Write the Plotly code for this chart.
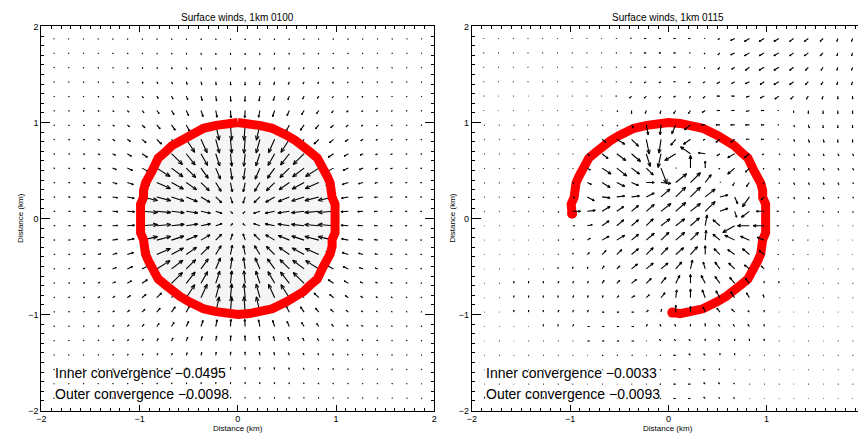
import math
import plotly.graph_objects as go

W, H = 861, 439

# ---------------- data ----------------
COL_X = [-1.875, -1.725, -1.575, -1.425, -1.275, -1.125, -0.975, -0.825, -0.675, -0.525, -0.375, -0.225, -0.075,
         0.075, 0.225, 0.375, 0.525, 0.675, 0.825, 0.975, 1.125, 1.275, 1.425, 1.575, 1.725, 1.875]
ROW_Y = [1.875, 1.725, 1.575, 1.425, 1.275, 1.125, 0.975, 0.825, 0.675, 0.525, 0.375, 0.225, 0.075,
         -0.075, -0.225, -0.375, -0.525, -0.675, -0.825, -0.975, -1.125, -1.275, -1.425, -1.575, -1.725, -1.875]

# wind components (display units), rows top->bottom, columns left->right
U_0100 = [
 [0.5,0.5,0.5,0.5,0.5,0.5,0.5,0.4,0.4,0.3,0.3,0.2,0.1,-0.1,-0.2,-0.3,-0.3,-0.4,-0.4,-0.5,-0.5,-0.5,-0.5,-0.5,-0.5,-0.5],
 [0.6,0.6,0.6,0.6,0.6,0.6,0.6,0.6,0.5,0.4,0.3,0.2,0.1,-0.1,-0.2,-0.3,-0.4,-0.5,-0.6,-0.6,-0.6,-0.6,-0.6,-0.6,-0.6,-0.6],
 [0.7,0.7,0.7,0.7,0.7,0.7,0.7,0.7,0.7,0.6,0.5,0.3,0.1,-0.1,-0.3,-0.5,-0.6,-0.7,-0.7,-0.7,-0.7,-0.7,-0.7,-0.7,-0.7,-0.7],
 [0.7,0.7,0.8,0.8,0.9,0.9,1.0,1.0,1.0,1.0,0.8,0.5,0.2,-0.2,-0.5,-0.8,-1.0,-1.0,-1.0,-1.0,-0.9,-0.9,-0.8,-0.8,-0.7,-0.7],
 [0.8,0.8,0.8,1.0,1.1,1.2,1.3,1.5,1.5,1.5,1.3,0.9,0.3,-0.3,-0.9,-1.3,-1.5,-1.5,-1.5,-1.3,-1.2,-1.1,-1.0,-0.8,-0.8,-0.8],
 [0.9,0.9,1.0,1.2,1.4,1.6,1.9,2.3,2.5,2.4,2.1,1.4,0.5,-0.5,-1.4,-2.1,-2.4,-2.5,-2.3,-1.9,-1.6,-1.4,-1.2,-1.0,-0.9,-0.9],
 [0.9,1.0,1.2,1.5,1.7,2.2,2.9,3.4,3.7,3.6,3.0,3.6,1.2,-1.2,-3.6,-3.0,-3.6,-3.7,-3.4,-2.9,-2.2,-1.7,-1.5,-1.2,-1.0,-0.9],
 [1.0,1.2,1.4,1.8,2.3,3.1,4.0,4.8,5.1,8.5,6.2,3.8,1.3,-1.3,-3.8,-6.2,-8.5,-5.1,-4.8,-4.0,-3.1,-2.3,-1.8,-1.4,-1.2,-1.0],
 [1.1,1.3,1.7,2.1,2.9,4.2,5.4,6.3,11.0,8.9,6.7,4.1,1.4,-1.4,-4.1,-6.7,-8.9,-11.0,-6.3,-5.4,-4.2,-2.9,-2.1,-1.7,-1.3,-1.1],
 [1.2,1.4,1.9,2.6,3.7,5.2,6.7,13.3,11.5,9.5,7.3,4.8,1.7,-1.7,-4.8,-7.3,-9.5,-11.5,-13.3,-6.7,-5.2,-3.7,-2.6,-1.9,-1.4,-1.2],
 [1.3,1.6,2.1,2.9,4.5,6.2,7.8,13.7,12.0,10.3,8.3,5.4,1.9,-1.9,-5.4,-8.3,-10.3,-12.0,-13.7,-7.8,-6.2,-4.5,-2.9,-2.1,-1.6,-1.3],
 [1.3,1.7,2.2,3.2,5.0,6.9,15.6,14.0,12.4,11.2,9.0,5.9,2.1,-2.1,-5.9,-9.0,-11.2,-12.4,-14.0,-15.6,-6.9,-5.0,-3.2,-2.2,-1.7,-1.3],
 [1.4,1.8,2.3,3.5,5.3,7.3,15.7,14.2,12.8,11.6,9.5,6.3,2.2,-2.2,-6.3,-9.5,-11.6,-12.8,-14.2,-15.7,-7.3,-5.3,-3.5,-2.3,-1.8,-1.4],
 [1.4,1.8,2.3,3.5,5.3,7.3,15.7,14.2,12.8,11.6,9.5,6.3,2.2,-2.2,-6.3,-9.5,-11.6,-12.8,-14.2,-15.7,-7.3,-5.3,-3.5,-2.3,-1.8,-1.4],
 [1.3,1.7,2.2,3.2,5.0,6.9,15.6,14.0,12.4,11.2,9.0,5.9,2.1,-2.1,-5.9,-9.0,-11.2,-12.4,-14.0,-15.6,-6.9,-5.0,-3.2,-2.2,-1.7,-1.3],
 [1.3,1.6,2.1,2.9,4.5,6.2,7.8,13.7,12.0,10.3,8.3,5.4,1.9,-1.9,-5.4,-8.3,-10.3,-12.0,-13.7,-7.8,-6.2,-4.5,-2.9,-2.1,-1.6,-1.3],
 [1.2,1.4,1.9,2.6,3.7,5.2,6.7,13.3,11.5,9.5,7.3,4.8,1.7,-1.7,-4.8,-7.3,-9.5,-11.5,-13.3,-6.7,-5.2,-3.7,-2.6,-1.9,-1.4,-1.2],
 [1.1,1.3,1.7,2.1,2.9,4.2,5.4,6.3,11.0,8.9,6.7,4.1,1.4,-1.4,-4.1,-6.7,-8.9,-11.0,-6.3,-5.4,-4.2,-2.9,-2.1,-1.7,-1.3,-1.1],
 [1.0,1.2,1.4,1.8,2.3,3.1,4.0,4.8,5.1,8.5,6.2,3.8,1.3,-1.3,-3.8,-6.2,-8.5,-5.1,-4.8,-4.0,-3.1,-2.3,-1.8,-1.4,-1.2,-1.0],
 [0.9,1.0,1.2,1.5,1.7,2.2,2.9,3.4,3.7,3.6,3.0,3.6,1.2,-1.2,-3.6,-3.0,-3.6,-3.7,-3.4,-2.9,-2.2,-1.7,-1.5,-1.2,-1.0,-0.9],
 [0.9,0.9,1.0,1.2,1.4,1.6,1.9,2.3,2.5,2.4,2.1,1.4,0.5,-0.5,-1.4,-2.1,-2.4,-2.5,-2.3,-1.9,-1.6,-1.4,-1.2,-1.0,-0.9,-0.9],
 [0.8,0.8,0.8,1.0,1.1,1.2,1.3,1.5,1.5,1.5,1.3,0.9,0.3,-0.3,-0.9,-1.3,-1.5,-1.5,-1.5,-1.3,-1.2,-1.1,-1.0,-0.8,-0.8,-0.8],
 [0.7,0.7,0.8,0.8,0.9,0.9,1.0,1.0,1.0,1.0,0.8,0.5,0.2,-0.2,-0.5,-0.8,-1.0,-1.0,-1.0,-1.0,-0.9,-0.9,-0.8,-0.8,-0.7,-0.7],
 [0.7,0.7,0.7,0.7,0.7,0.7,0.7,0.7,0.7,0.6,0.5,0.3,0.1,-0.1,-0.3,-0.5,-0.6,-0.7,-0.7,-0.7,-0.7,-0.7,-0.7,-0.7,-0.7,-0.7],
 [0.6,0.6,0.6,0.6,0.6,0.6,0.6,0.6,0.5,0.4,0.3,0.2,0.1,-0.1,-0.2,-0.3,-0.4,-0.5,-0.6,-0.6,-0.6,-0.6,-0.6,-0.6,-0.6,-0.6],
 [0.5,0.5,0.5,0.5,0.5,0.5,0.5,0.4,0.4,0.3,0.3,0.2,0.1,-0.1,-0.2,-0.3,-0.3,-0.4,-0.4,-0.5,-0.5,-0.5,-0.5,-0.5,-0.5,-0.5],
]
V_0100 = [
 [-0.5,-0.6,-0.7,-0.7,-0.8,-0.9,-0.9,-1.0,-1.1,-1.2,-1.3,-1.3,-1.4,-1.4,-1.3,-1.3,-1.2,-1.1,-1.0,-0.9,-0.9,-0.8,-0.7,-0.7,-0.6,-0.5],
 [-0.5,-0.6,-0.7,-0.7,-0.8,-0.9,-1.0,-1.2,-1.3,-1.4,-1.6,-1.7,-1.8,-1.8,-1.7,-1.6,-1.4,-1.3,-1.2,-1.0,-0.9,-0.8,-0.7,-0.7,-0.6,-0.5],
 [-0.5,-0.6,-0.7,-0.8,-0.8,-1.0,-1.2,-1.4,-1.7,-1.9,-2.1,-2.2,-2.3,-2.3,-2.2,-2.1,-1.9,-1.7,-1.4,-1.2,-1.0,-0.8,-0.8,-0.7,-0.6,-0.5],
 [-0.5,-0.6,-0.7,-0.8,-1.0,-1.2,-1.5,-1.8,-2.1,-2.6,-2.9,-3.2,-3.5,-3.5,-3.2,-2.9,-2.6,-2.1,-1.8,-1.5,-1.2,-1.0,-0.8,-0.7,-0.6,-0.5],
 [-0.5,-0.6,-0.7,-0.9,-1.1,-1.4,-1.7,-2.3,-2.9,-3.7,-4.5,-5.0,-5.3,-5.3,-5.0,-4.5,-3.7,-2.9,-2.3,-1.7,-1.4,-1.1,-0.9,-0.7,-0.6,-0.5],
 [-0.5,-0.6,-0.7,-0.9,-1.2,-1.6,-2.2,-3.1,-4.2,-5.2,-6.2,-6.9,-7.3,-7.3,-6.9,-6.2,-5.2,-4.2,-3.1,-2.2,-1.6,-1.2,-0.9,-0.7,-0.6,-0.5],
 [-0.5,-0.6,-0.7,-1.0,-1.3,-1.9,-2.9,-4.0,-5.4,-6.7,-7.8,-15.6,-15.7,-15.7,-15.6,-7.8,-6.7,-5.4,-4.0,-2.9,-1.9,-1.3,-1.0,-0.7,-0.6,-0.5],
 [-0.4,-0.6,-0.7,-1.0,-1.5,-2.3,-3.4,-4.8,-6.3,-13.3,-13.7,-14.0,-14.2,-14.2,-14.0,-13.7,-13.3,-6.3,-4.8,-3.4,-2.3,-1.5,-1.0,-0.7,-0.6,-0.4],
 [-0.4,-0.5,-0.7,-1.0,-1.5,-2.5,-3.7,-5.1,-11.0,-11.5,-12.0,-12.4,-12.8,-12.8,-12.4,-12.0,-11.5,-11.0,-5.1,-3.7,-2.5,-1.5,-1.0,-0.7,-0.5,-0.4],
 [-0.3,-0.4,-0.6,-1.0,-1.5,-2.4,-3.6,-8.5,-8.9,-9.5,-10.3,-11.2,-11.6,-11.6,-11.2,-10.3,-9.5,-8.9,-8.5,-3.6,-2.4,-1.5,-1.0,-0.6,-0.4,-0.3],
 [-0.3,-0.3,-0.5,-0.8,-1.3,-2.1,-3.0,-6.2,-6.7,-7.3,-8.3,-9.0,-9.5,-9.5,-9.0,-8.3,-7.3,-6.7,-6.2,-3.0,-2.1,-1.3,-0.8,-0.5,-0.3,-0.3],
 [-0.2,-0.2,-0.3,-0.5,-0.9,-1.4,-3.6,-3.8,-4.1,-4.8,-5.4,-5.9,-6.3,-6.3,-5.9,-5.4,-4.8,-4.1,-3.8,-3.6,-1.4,-0.9,-0.5,-0.3,-0.2,-0.2],
 [-0.1,-0.1,-0.1,-0.2,-0.3,-0.5,-1.2,-1.3,-1.4,-1.7,-1.9,-2.1,-2.2,-2.2,-2.1,-1.9,-1.7,-1.4,-1.3,-1.2,-0.5,-0.3,-0.2,-0.1,-0.1,-0.1],
 [0.1,0.1,0.1,0.2,0.3,0.5,1.2,1.3,1.4,1.7,1.9,2.1,2.2,2.2,2.1,1.9,1.7,1.4,1.3,1.2,0.5,0.3,0.2,0.1,0.1,0.1],
 [0.2,0.2,0.3,0.5,0.9,1.4,3.6,3.8,4.1,4.8,5.4,5.9,6.3,6.3,5.9,5.4,4.8,4.1,3.8,3.6,1.4,0.9,0.5,0.3,0.2,0.2],
 [0.3,0.3,0.5,0.8,1.3,2.1,3.0,6.2,6.7,7.3,8.3,9.0,9.5,9.5,9.0,8.3,7.3,6.7,6.2,3.0,2.1,1.3,0.8,0.5,0.3,0.3],
 [0.3,0.4,0.6,1.0,1.5,2.4,3.6,8.5,8.9,9.5,10.3,11.2,11.6,11.6,11.2,10.3,9.5,8.9,8.5,3.6,2.4,1.5,1.0,0.6,0.4,0.3],
 [0.4,0.5,0.7,1.0,1.5,2.5,3.7,5.1,11.0,11.5,12.0,12.4,12.8,12.8,12.4,12.0,11.5,11.0,5.1,3.7,2.5,1.5,1.0,0.7,0.5,0.4],
 [0.4,0.6,0.7,1.0,1.5,2.3,3.4,4.8,6.3,13.3,13.7,14.0,14.2,14.2,14.0,13.7,13.3,6.3,4.8,3.4,2.3,1.5,1.0,0.7,0.6,0.4],
 [0.5,0.6,0.7,1.0,1.3,1.9,2.9,4.0,5.4,6.7,7.8,15.6,15.7,15.7,15.6,7.8,6.7,5.4,4.0,2.9,1.9,1.3,1.0,0.7,0.6,0.5],
 [0.5,0.6,0.7,0.9,1.2,1.6,2.2,3.1,4.2,5.2,6.2,6.9,7.3,7.3,6.9,6.2,5.2,4.2,3.1,2.2,1.6,1.2,0.9,0.7,0.6,0.5],
 [0.5,0.6,0.7,0.9,1.1,1.4,1.7,2.3,2.9,3.7,4.5,5.0,5.3,5.3,5.0,4.5,3.7,2.9,2.3,1.7,1.4,1.1,0.9,0.7,0.6,0.5],
 [0.5,0.6,0.7,0.8,1.0,1.2,1.5,1.8,2.1,2.6,2.9,3.2,3.5,3.5,3.2,2.9,2.6,2.1,1.8,1.5,1.2,1.0,0.8,0.7,0.6,0.5],
 [0.5,0.6,0.7,0.8,0.8,1.0,1.2,1.4,1.7,1.9,2.1,2.2,2.3,2.3,2.2,2.1,1.9,1.7,1.4,1.2,1.0,0.8,0.8,0.7,0.6,0.5],
 [0.5,0.6,0.7,0.7,0.8,0.9,1.0,1.2,1.3,1.4,1.6,1.7,1.8,1.8,1.7,1.6,1.4,1.3,1.2,1.0,0.9,0.8,0.7,0.7,0.6,0.5],
 [0.5,0.6,0.7,0.7,0.8,0.9,0.9,1.0,1.1,1.2,1.3,1.3,1.4,1.4,1.3,1.3,1.2,1.1,1.0,0.9,0.9,0.8,0.7,0.7,0.6,0.5],
]

U_0115 = [
 [-0.6,-0.6,-0.6,-0.6,-0.6,-0.6,-0.6,-0.6,-0.6,-0.8,-1,-2,-2,-2,-2,-1,-2,-4,-5,-5,-5,-4,-4,-3,-1,-1],
 [-0.6,-0.6,-0.6,-0.6,-0.6,-0.6,-0.6,-0.6,-0.6,-0.8,-1,-2,-2,-2,-1,-1,-2,-4,-5,-5,-5,-4,-4,-3,-1,-1],
 [-0.6,-0.6,-0.6,-0.6,-0.6,-0.6,-0.6,-0.6,-0.6,-0.8,-1,-2,-2,-2,-1,-1,-2,-3,-4,-5,-5,-4,-3,-2,-1,-1],
 [-0.6,-0.6,-0.6,-0.6,-0.6,-0.6,-0.6,-0.6,-0.6,-0.8,-1,-2,-2,-2,-2,-2,-3,-3,-4,-4,-5,-4,-3,-2,-1,-1],
 [-0.5,-0.5,-0.5,-0.5,-0.5,-0.5,-0.5,-0.5,-0.5,-1,-2,-2,-2,-2,-1,-2,-3,-3,-3,-4,-4,-3,-2,-1,0,0],
 [-0.5,-0.5,-0.5,-0.5,-0.5,-0.5,-0.5,-0.5,-0.5,1,0,-1,-1,-2,-2,-3,-3,-3,-3,-3,-1,0,0,0,0,0],
 [0.5,0.5,0.5,0.5,0.5,0.5,0.5,0.5,1,1,2,2,-1,-4,-6,-4,-4,-4,-4,-3,-1,1,1,0,0,0],
 [0.5,0.5,0.5,0.5,0.5,0.5,0.5,0.5,4,8,7,3,-2,-5,-7,-2,-4,-4,-3,-3,-1,1,1,1,0,0],
 [0.5,0.5,0.5,0.5,0.5,0.5,0.5,2,6,9,9,4,-3,-11,-10,-7,-3,-7,-5,-2,1,1,1,1,1,1],
 [0.5,0.5,0.5,0.5,0.5,0.5,0.5,3,9,10,8,7,6,0.6,0,0,-1,-7,-4,-1,1,1,1,1,1,1],
 [0.5,0.5,0.5,0.5,0.5,0.5,1,4,8,8,7,8,10,11,10,6,0.5,-2,-3,-1,0.5,1,1,1,1,1],
 [0.5,0.5,0.7,0.7,0.7,0.7,2,7,8,8,8,8,9,10,10,10,8,3,-7,-3,-1,1,1,1,1,1],
 [0.5,0.5,0.5,0.5,0.5,1,8,8,8,7,7,8,10,10,10,10,8,2,-8,-8,-2,0.7,0.7,0.7,0.7,0.7],
 [0.5,0.5,0.5,0.5,0.5,1,2,5,7,7,7,7,9,9,9,2,-7,-12,-12,-11,-2,-0.7,-0.7,-0.7,0.5,0.5],
 [0.5,0.5,0.5,0.5,0.5,1,1,3,7,8,7,8,8,9,8,1,-7,-10,-9,-7,-0.6,-1,-0.6,-0.6,0.5,0.5],
 [0.5,0.5,0.5,0.5,0.5,0.5,0.5,2,4,5,7,7,7,8,7,0,-6,-7,-7,-5,-1,-0.6,-0.6,-0.6,0.5,0.5],
 [0.5,0.5,0.5,0.5,0.5,0.3,0.3,0.5,2,3,6,7,7,6,2,-2,-5,-6,-5,-3,-0.6,-0.6,0.5,0.5,0.5,0.5],
 [0.5,0.5,0.3,0.3,0.3,1,1,1,2,3,5,5,5,4,0,-4,-5,-5,-4,0,0,0.5,0.5,0.5,0.5,0.5],
 [0.5,0.5,0.3,0.3,0.3,0.3,1,1,1,2,3,3,4,1,0,-3,-4,-4,-3,-1,0.5,0.5,0.5,0.5,0.5,0.5],
 [0.5,0.5,0.3,0.3,0.3,1,1,1,2,2,2,2,0.5,0,0,-2,-3,-3,-1.5,0,0.5,0.5,0.5,0.5,0.5,0.5],
 [0.5,0.5,0.5,0.5,0.3,0.3,1,2,2,2,2,1,-1,-1,0,0,-1.5,-1.5,-1.5,0,0.5,0.5,0.5,0.5,0.5,0.5],
 [0.5,0.5,0.5,0.5,0.5,0.5,0.5,2,2,2,2,0.5,-1.5,-1.5,-1.5,0,-1.5,0,0,0,0.5,0.5,0.5,0.5,0.5,0.5],
 [0.5,0.5,0.5,0.5,0.5,0.5,0.5,0.5,1,1,1,0.5,-1,-2,-1.5,-1.5,0,0,0.5,0.5,0.5,0.5,0.5,0.5,0.5,0.5],
 [0.5,0.5,0.5,0.5,0.5,0.5,0.5,0.5,0.5,0.5,0.5,0.5,-1,-2,-1.5,-2,-1,0.5,0.5,0.5,0.5,0.5,0.5,0.5,0.5,0.5],
 [0.5,0.5,0.5,0.5,0.5,0.5,0.5,0.5,0.5,0.5,0.5,0.5,-1,-2,-2,-1.5,-1.5,-1,0.5,0.5,0.5,0.5,0.5,0.5,0.5,0.5],
 [0.5,0.5,0.5,0.5,0.5,0.5,0.5,0.5,0.5,0.5,0.5,0.5,-1,-2,-2,-1.5,-1,-1,0.5,0.5,0.5,0.5,0.5,0.5,0.5,0.5],
]
V_0115 = [
 [0,0,0,0,0,0,0,0,0,0,0.5,0,0,0,0,0,-1,-2,-3,-3,-3,-3,-3,-3,-3,-3],
 [0,0,0,0,0,0,0,0,0,0,0,0,0,0,0,-1,-2,-2,-3,-3,-3,-3,-3,-3,-3,-3],
 [0,0,0,0,0,0,0,0,0,0,0,0,0,0,0,-1,-2,-2,-3,-3,-3,-3,-3,-3,-3,-3],
 [0,0,0,0,0,0,0,0,0,0,-1,-1,-1,0,-1,-1,-2,-2,-2,-3,-3,-3,-3,-3,-3,-3],
 [0,0,0,0,0,0,0,0,0,0,-2,-2,-2,-1,-2,-2,0,0,-1,-2,-3,-3,-3,-3,-3,-3],
 [0,0,0,0,0,0,0,0,0,-1,-3,-3,-3,-3,-3,-2,0,0,-1,0,0,-2,-3,-3,-3,-3],
 [-0.3,-0.3,-0.3,-0.3,-0.3,-0.3,-0.3,-0.3,-0.5,-1,-3,-10,-10,-9,-5,0,0,0,0,0,0,-2,-3,-3,-3,-3],
 [-0.3,-0.3,-0.3,-0.3,-0.3,-0.3,-0.3,-0.3,-3,-5,-7,-15,-14,-6,-5,-1,-3,-3,0,0,0,-2,-3,-3,-3,-3],
 [-0.3,-0.3,-0.3,-0.3,-0.3,-0.3,-0.3,-2,-5,-7,-8,-13,-14,-7,7,1,-2,-4,-4,-1,-1,-2,-2,-2,-2,-2],
 [-0.4,-0.4,-0.4,-0.4,-0.4,-0.4,-0.4,-2,-6,-8,-6,-7,-16,0,13,7,-1,-6,-4,-1,-2,-2,-2,-2,-2,-2],
 [-0.5,-0.5,-0.5,-0.5,-0.5,-0.5,-1,-2,-5,-4,-3,0,-1,9,10,8,0.5,-3,-4,-1,-1,-2,-2,-2,-2,-1],
 [-0.3,-0.3,-0.7,-0.7,-0.7,-0.7,-1,-4,-1,1,1,4,8,10,10,8,2,-7,-10,-3,-1,-2,-2,-2,-1,-1],
 [-0.3,-0.3,-0.3,-0.3,-0.3,-1,0,1,5,5,6,7,8,9,8,10,3,-6,-6,0,0,-1,-1,-1,-1,-1],
 [0,0,0,0,0,0,0,1,5,6,6,7,7,7,8,11,6,-7,0,0,0,0,0,0,0,0],
 [0,0,0,0,0,0,1,2,4,5,6,7,8,8,8,10,6,5,4,3,0,0,0,0,0,0],
 [0,0,0,0,0,0.5,1.5,2,4,5,6,7,7,7,8,9,6,5,6,4,0,0,0,0,0,0],
 [0,0,0,0,0,1.5,2,2,3,3,5,6,6,7,9,7,7,6,4,3,0,0,0,0,0,0],
 [0,0,2,2,2,2,2,2,3,3,4,5,6,8,9,8,7,6,5,2,2,0,0,0,0,0],
 [0,0,2,2,2,2,2,2,2,2,2,3,5,8,9,8,7,6,5,3,0,0,0,0,0,0],
 [0,0,2,2,2,2,2,2,0,0,0,2,3,7,6,5,4,3,1.5,2,0,0,0,0,0,0],
 [0,0,0,0,2,2,2,0,0,0,0,2,2,2,2,3,2,2,2,2,0,0,0,0,0,0],
 [0,0,0,0,0,0,0,0,0,0,0,0,1.5,1.5,1.5,2,1.5,2,2,2,0,0,0,0,0,0],
 [0,0,0,0,0,0,0,0,0,0,0,0,0,0,1.5,1.5,2,2,0,0,0,0,0,0,0,0],
 [0,0,0,0,0,0,0,0,0,0,0,0,0,0,1.5,0,1,0,0,0,0,0,0,0,0,0],
 [0,0,0,0,0,0,0,0,0,0,0,0,0,0,0,1.5,1.5,1,0,0,0,0,0,0,0,0],
 [1.5,1.5,1.5,1.5,1.5,1.5,1,1,0,0,0,0,0,0,0,1.5,1,1,0,0,0,0,0,0,0,0],
]

# gust-front outline (km)
FRONT_0100_X = [0, -0.12, -0.22, -0.35, -0.5, -0.59, -0.67, -0.74, -0.81, -0.87, -0.91, -0.94, -0.96, -0.96, -0.99, -0.99, -0.99,
                -0.99, -0.99, -0.96, -0.96, -0.94, -0.91, -0.87, -0.81, -0.74, -0.67, -0.59, -0.5, -0.35, -0.22, -0.12, 0,
                0.12, 0.22, 0.35, 0.5, 0.59, 0.67, 0.74, 0.81, 0.87, 0.91, 0.94, 0.96, 0.96, 0.99, 0.99, 0.99,
                0.99, 0.99, 0.96, 0.96, 0.94, 0.91, 0.87, 0.81, 0.74, 0.67, 0.59, 0.5, 0.35, 0.22, 0.12, 0]
FRONT_0100_Y = [1.0, 0.99, 0.97, 0.94, 0.865, 0.81, 0.76, 0.69, 0.63, 0.5, 0.44, 0.37, 0.29, 0.22, 0.15, 0.08, 0,
                -0.08, -0.15, -0.22, -0.29, -0.37, -0.44, -0.5, -0.63, -0.69, -0.76, -0.81, -0.865, -0.94, -0.97, -0.99, -1.0,
                -0.99, -0.97, -0.94, -0.865, -0.81, -0.76, -0.69, -0.63, -0.5, -0.44, -0.37, -0.29, -0.22, -0.15, -0.08, 0,
                0.08, 0.15, 0.22, 0.29, 0.37, 0.44, 0.5, 0.63, 0.69, 0.76, 0.81, 0.865, 0.94, 0.97, 0.99, 1.0]
FRONT_0115_X = [-0.98, -0.99, -0.96, -0.96, -0.94, -0.91, -0.87, -0.81, -0.74, -0.67, -0.59, -0.5, -0.35, -0.22, -0.12, 0,
                0.12, 0.22, 0.35, 0.5, 0.59, 0.67, 0.74, 0.81, 0.87, 0.91, 0.94, 0.96, 0.96, 0.99, 0.99, 0.99,
                0.99, 0.99, 0.96, 0.96, 0.94, 0.91, 0.87, 0.81, 0.74, 0.67, 0.59, 0.5, 0.35, 0.22, 0.12, 0.04]
FRONT_0115_Y = [0.05, 0.15, 0.22, 0.29, 0.37, 0.44, 0.5, 0.63, 0.69, 0.76, 0.81, 0.865, 0.94, 0.97, 0.99, 1.0,
                0.99, 0.97, 0.94, 0.865, 0.81, 0.76, 0.69, 0.63, 0.5, 0.44, 0.37, 0.29, 0.22, 0.15, 0.08, 0,
                -0.08, -0.15, -0.22, -0.29, -0.37, -0.44, -0.5, -0.63, -0.69, -0.76, -0.81, -0.865, -0.94, -0.97, -0.99, -0.98]

TITLES = ["Surface winds, 1km 0100", "Surface winds, 1km 0115"]
INNER_CONV = ["\u22120.0495", "\u22120.0033"]
OUTER_CONV = ["\u22120.0098", "\u22120.0093"]
TICKS = [-2, -1, 0, 1, 2]
TICK_TEXT = ["\u22122", "\u22121", "0", "1", "2"]

# ---------------- layout geometry (pixels) ----------------
PLOT_TOP, PLOT_BOT = 22, 415
L_LEFT, L_RIGHT = 36.7, 433.3
R_LEFT = 471.3
SX = (L_RIGHT - L_LEFT) / 4.0
SY = (PLOT_BOT - PLOT_TOP) / 4.0
R_XMAX = -2 + (W - R_LEFT) / SX

HEAD = 0.3
HANG = math.radians(22.5)
FONT = "Liberation Sans"


def quiver(U, V):
    xs, ys = [], []
    for j, y0 in enumerate(ROW_Y):
        for i, x0 in enumerate(COL_X):
            u, v = U[j][i], V[j][i]
            L = math.hypot(u, v)
            if L == 0:
                continue
            x1, y1 = x0 + u / SX, y0 + v / SY
            xs += [x0, x1, None]
            ys += [y0, y1, None]
            a = math.atan2(v, u)
            h = HEAD * L
            b1, b2 = a + math.pi + HANG, a + math.pi - HANG
            xs += [x1 + h * math.cos(b1) / SX, x1, x1 + h * math.cos(b2) / SX, None]
            ys += [y1 + h * math.sin(b1) / SY, y1, y1 + h * math.sin(b2) / SY, None]
    return xs, ys


fig = go.Figure()

# left panel
fig.add_trace(go.Scatter(x=FRONT_0100_X, y=FRONT_0100_Y, mode="lines", fill="toself",
                         fillcolor="#f5f5f5", line=dict(width=0), hoverinfo="skip",
                         xaxis="x", yaxis="y", showlegend=False))
qx, qy = quiver(U_0100, V_0100)
fig.add_trace(go.Scatter(x=qx, y=qy, mode="lines", line=dict(color="black", width=1.1),
                         hoverinfo="skip", xaxis="x", yaxis="y", showlegend=False))
fig.add_trace(go.Scatter(x=FRONT_0100_X, y=FRONT_0100_Y, mode="lines",
                         line=dict(color="#ff0000", width=9), hoverinfo="skip",
                         xaxis="x", yaxis="y", showlegend=False))

# right panel
fig.add_trace(go.Scatter(x=FRONT_0115_X, y=FRONT_0115_Y, mode="lines",
                         line=dict(color="#ff0000", width=9), hoverinfo="skip",
                         xaxis="x2", yaxis="y2", showlegend=False))
fig.add_trace(go.Scatter(x=[FRONT_0115_X[0], FRONT_0115_X[-1]], y=[FRONT_0115_Y[0], FRONT_0115_Y[-1]],
                         mode="markers", marker=dict(color="#ff0000", size=10), hoverinfo="skip",
                         xaxis="x2", yaxis="y2", showlegend=False))
qx, qy = quiver(U_0115, V_0115)
fig.add_trace(go.Scatter(x=qx, y=qy, mode="lines", line=dict(color="black", width=1.1),
                         hoverinfo="skip", xaxis="x2", yaxis="y2", showlegend=False))


def axis(domain, rng, anchor, mirror, major_len):
    return dict(domain=domain, range=rng, anchor=anchor, showgrid=False, zeroline=False,
                showline=True, linecolor="black", linewidth=1, mirror=mirror,
                ticks="inside", ticklen=major_len, tickwidth=1, tickcolor="black",
                tickvals=TICKS, ticktext=TICK_TEXT,
                tickfont=dict(family=FONT, size=9, color="black"),
                minor=dict(ticks="inside", ticklen=3, tickwidth=1, tickcolor="black", dtick=0.1, tick0=0),
                fixedrange=True)


ydom = [1 - PLOT_BOT / H, 1 - PLOT_TOP / H]
fig.update_layout(
    width=W, height=H, margin=dict(l=0, r=0, t=0, b=0), autosize=False,
    paper_bgcolor="white", plot_bgcolor="white",
    xaxis=axis([L_LEFT / W, L_RIGHT / W], [-2, 2], "y", "ticks", 6),
    yaxis=axis(ydom, [-2, 2], "x", "ticks", 9),
    xaxis2=axis([R_LEFT / W, 1.0], [-2, R_XMAX], "y2", "ticks", 6),
    yaxis2=axis(ydom, [-2, 2], "x2", False, 9),
)

ann = []
centers = [(L_LEFT + L_RIGHT) / 2, R_LEFT + 2 * SX]
for k, cx in enumerate(centers):
    ann.append(dict(x=cx / W, y=1 - 13 / H, xref="paper", yref="paper", text=TITLES[k],
                    showarrow=False, xanchor="center", yanchor="middle",
                    font=dict(family=FONT, size=10, color="black")))
    ann.append(dict(x=cx / W, y=1 - 433 / H, xref="paper", yref="paper", text="Distance (km)",
                    showarrow=False, xanchor="center", yanchor="middle",
                    font=dict(family=FONT, size=8, color="black")))
    lx = [15, 451][k]
    ann.append(dict(x=lx / W, y=1 - 218 / H, xref="paper", yref="paper", text="Distance (km)",
                    showarrow=False, xanchor="center", yanchor="middle", textangle=-90,
                    font=dict(family=FONT, size=8, color="black")))
    tx = [48, 483][k]
    ann.append(dict(x=tx / W, y=1 - 377 / H, xref="paper", yref="paper",
                    text="Inner convergence " + INNER_CONV[k],
                    showarrow=False, xanchor="left", yanchor="middle",
                    font=dict(family=FONT, size=14, color="black")))
    ann.append(dict(x=tx / W, y=1 - 398 / H, xref="paper", yref="paper",
                    text="Outer convergence " + OUTER_CONV[k],
                    showarrow=False, xanchor="left", yanchor="middle",
                    font=dict(family=FONT, size=14, color="black")))
fig.update_layout(annotations=ann)

fig.write_html("out.html", config={"displayModeBar": False},
               post_script="document.body.style.margin='0';document.body.style.overflow='hidden';")
